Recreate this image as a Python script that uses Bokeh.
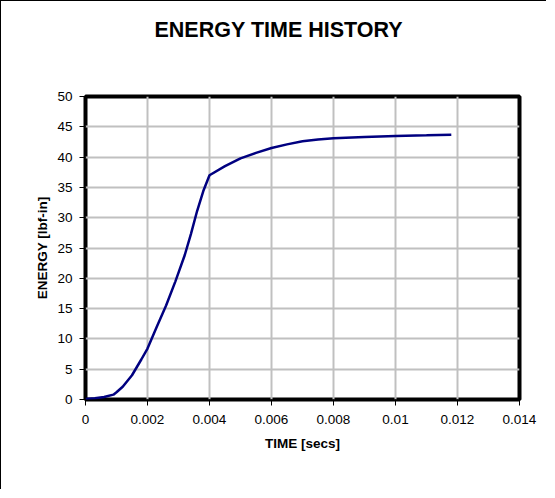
from bokeh.plotting import figure
from bokeh.models import Range1d, FixedTicker, Title
from bokeh.embed import file_html
from bokeh.resources import INLINE

# data
time_s = [0, 0.0003, 0.0006, 0.0009, 0.001, 0.0012, 0.0015, 0.0018, 0.002, 0.0023,
          0.0026, 0.0029, 0.0032, 0.0034, 0.0036, 0.0038, 0.004, 0.0045, 0.005, 0.0055,
          0.006, 0.0065, 0.007, 0.0075, 0.008, 0.009, 0.010, 0.011, 0.0118]
energy = [0.1, 0.2, 0.4, 0.8, 1.2, 2.1, 4.0, 6.6, 8.4, 12.0,
          15.5, 19.5, 23.8, 27.3, 31.1, 34.4, 37.0, 38.5, 39.8, 40.7,
          41.5, 42.1, 42.6, 42.9, 43.1, 43.3, 43.5, 43.6, 43.7]

x_ticks = [0, 0.002, 0.004, 0.006, 0.008, 0.01, 0.012, 0.014]
x_tick_labels = ["0", "0.002", "0.004", "0.006", "0.008", "0.01", "0.012", "0.014"]
y_ticks = [0, 5, 10, 15, 20, 25, 30, 35, 40, 45, 50]
y_tick_labels = ["0", "5", "10", "15", "20", "25", "30", "35", "40", "45", "50"]

title_text = "ENERGY TIME HISTORY"
x_label = "TIME [secs]"
y_label = "ENERGY [lbf-in]"

FONT = "Liberation Sans"

p = figure(width=546, height=489, output_backend="svg", toolbar_location=None,
           x_range=Range1d(0, 0.014), y_range=Range1d(0, 50),
           min_border_left=84, min_border_right=28, min_border_top=95, min_border_bottom=91)
p.styles = {"border-top": "1px solid black", "border-left": "1px solid black"}

p.title = None
# blank spacer panel between the plot frame and the title
spacer = Title(text=" ", standoff=50, text_font=FONT, text_font_size="1px")
p.add_layout(spacer, "above")
t = Title(text=title_text, align="left", offset=69, standoff=0, vertical_align="top",
          text_font=FONT, text_font_size="21.5px", text_font_style="bold", text_color="black")
p.add_layout(t, "above")

p.background_fill_color = "white"
p.border_fill_color = "white"
p.outline_line_color = "black"
p.outline_line_width = 4

p.xgrid.grid_line_color = "#c0c0c0"
p.ygrid.grid_line_color = "#c0c0c0"
p.xgrid.grid_line_width = 2
p.ygrid.grid_line_width = 2

p.xaxis.ticker = FixedTicker(ticks=x_ticks)
p.yaxis.ticker = FixedTicker(ticks=y_ticks)
p.xaxis.major_label_overrides = dict(zip(x_ticks, x_tick_labels))
p.yaxis.major_label_overrides = dict(zip(y_ticks, y_tick_labels))

for ax in (p.xaxis, p.yaxis):
    ax.axis_line_color = None
    ax.major_tick_in = 0
    ax.major_tick_out = 6
    ax.major_tick_line_color = "black"
    ax.major_tick_line_width = 1
    ax.minor_tick_line_color = None
    ax.major_label_text_font = FONT
    ax.major_label_text_font_size = "13.5px"
    ax.major_label_text_color = "black"
    ax.axis_label_text_font = FONT
    ax.axis_label_text_font_size = "13.5px"
    ax.axis_label_text_font_style = "bold"
    ax.axis_label_text_color = "black"

p.xaxis.axis_label = x_label
p.yaxis.axis_label = y_label
p.xaxis.major_label_standoff = 9
p.yaxis.major_label_standoff = 7
p.xaxis.axis_label_standoff = 9
p.yaxis.axis_label_standoff = 4

p.line(time_s, energy, line_color="#000080", line_width=2.5)

open("out.html", "w").write(file_html(p, INLINE))
